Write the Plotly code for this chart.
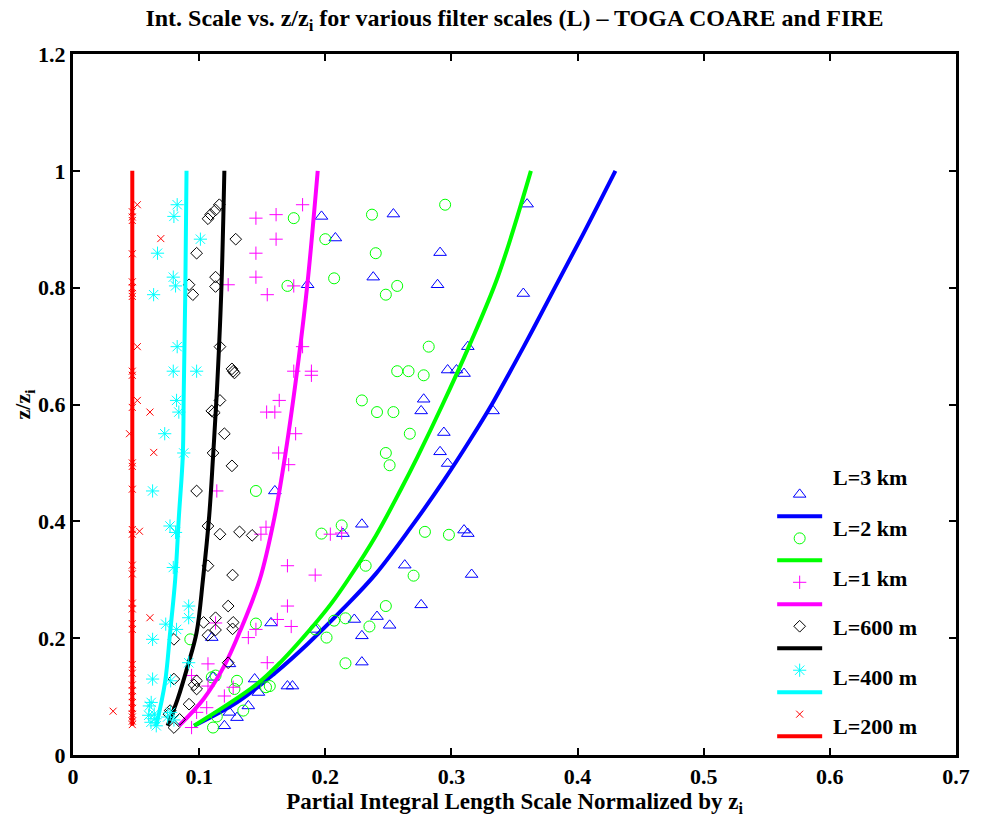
import plotly.graph_objects as go

# ---------------- data ----------------
# Fitted curves (x = normalized integral scale, z = z/zi)
fit3_z = [0.05, 0.09, 0.14, 0.19, 0.25, 0.31, 0.39, 0.47, 0.54, 0.60, 0.67, 0.73, 0.80, 0.89, 1.0]
fit3_x = [0.096, 0.130, 0.160, 0.186, 0.214, 0.240, 0.268, 0.294, 0.315, 0.332, 0.350, 0.365, 0.382, 0.404, 0.430]

fit2_z = [0.05, 0.12, 0.16, 0.22, 0.26, 0.30, 0.375, 0.455, 0.51, 0.60, 0.70, 0.82, 1.0]
fit2_x = [0.096, 0.145, 0.165, 0.190, 0.205, 0.218, 0.240, 0.260, 0.273, 0.293, 0.314, 0.337, 0.363]

fit1_z = [0.05, 0.096, 0.153, 0.21, 0.30, 0.41, 0.51, 0.68, 0.81, 1.0]
fit1_x = [0.084, 0.1035, 0.120, 0.132, 0.148, 0.160, 0.168, 0.179, 0.186, 0.194]

fit600_z = [0.05, 0.096, 0.153, 0.21, 0.30, 0.41, 0.51, 0.62, 0.79, 1.0]
fit600_x = [0.075, 0.083, 0.091, 0.098, 0.1030, 0.108, 0.111, 0.1140, 0.1175, 0.120]

fit400_z = [0.05, 0.125, 0.21, 0.30, 0.41, 0.51, 0.62, 0.79, 1.0]
fit400_x = [0.066, 0.073, 0.077, 0.081, 0.084, 0.087, 0.0878, 0.089, 0.090]

fit200_z = [0.05, 0.5, 1.0]
fit200_x = [0.047, 0.047, 0.047]

# Scatter data
pts3_x = [0.197, 0.208, 0.254, 0.360, 0.291, 0.238, 0.289, 0.357, 0.186, 0.313, 0.297, 0.304, 0.310,
          0.278, 0.276, 0.333, 0.294, 0.291, 0.297, 0.229, 0.214, 0.310, 0.313, 0.316, 0.263, 0.276,
          0.241, 0.223, 0.251, 0.229, 0.192, 0.229, 0.170, 0.174, 0.157, 0.110, 0.111, 0.124, 0.144,
          0.147, 0.139, 0.130, 0.120, 0.160, 0.124]
pts3_z = [0.922, 0.885, 0.926, 0.943, 0.860, 0.818, 0.805, 0.790, 0.805, 0.699, 0.659, 0.659, 0.653,
          0.609, 0.589, 0.589, 0.552, 0.519, 0.499, 0.395, 0.379, 0.385, 0.379, 0.309, 0.325, 0.257,
          0.237, 0.232, 0.222, 0.204, 0.215, 0.159, 0.118, 0.118, 0.226, 0.201, 0.133, 0.156, 0.130,
          0.107, 0.084, 0.064, 0.050, 0.452, 0.073]

pts2_x = [0.175, 0.200, 0.237, 0.240, 0.207, 0.170, 0.295, 0.257, 0.248, 0.282, 0.257, 0.266, 0.278,
          0.229, 0.241, 0.254, 0.267, 0.248, 0.251, 0.145, 0.197, 0.213, 0.279, 0.298, 0.232, 0.270,
          0.248, 0.207, 0.216, 0.235, 0.201, 0.192, 0.145, 0.093, 0.216, 0.130, 0.113, 0.128, 0.156,
          0.153, 0.135, 0.114, 0.111, 0.110]
pts2_z = [0.919, 0.883, 0.925, 0.859, 0.816, 0.803, 0.942, 0.803, 0.788, 0.699, 0.657, 0.657, 0.650,
          0.607, 0.587, 0.587, 0.550, 0.517, 0.496, 0.452, 0.379, 0.393, 0.382, 0.377, 0.324, 0.307,
          0.255, 0.230, 0.234, 0.220, 0.201, 0.215, 0.225, 0.198, 0.157, 0.127, 0.136, 0.113, 0.118,
          0.116, 0.076, 0.066, 0.047, 0.133]

pts1_x = [0.182, 0.145, 0.161, 0.161, 0.145, 0.123, 0.145, 0.154, 0.175, 0.182, 0.175, 0.189, 0.189,
          0.1635, 0.1535, 0.160, 0.1765, 0.163, 0.171, 0.114, 0.153, 0.149, 0.204, 0.213, 0.170, 0.192,
          0.170, 0.173, 0.145, 0.139, 0.162, 0.113, 0.107, 0.154, 0.094, 0.107, 0.127, 0.120, 0.106,
          0.098, 0.094]
pts1_z = [0.942, 0.919, 0.925, 0.883, 0.859, 0.805, 0.818, 0.788, 0.803, 0.699, 0.657, 0.657, 0.650,
          0.607, 0.587, 0.587, 0.550, 0.517, 0.497, 0.452, 0.390, 0.378, 0.378, 0.380, 0.324, 0.308,
          0.255, 0.220, 0.215, 0.201, 0.232, 0.226, 0.156, 0.158, 0.136, 0.118, 0.116, 0.101, 0.081,
          0.073, 0.047]

pts600_x = [0.116, 0.107, 0.109, 0.113, 0.129, 0.098, 0.092, 0.095, 0.113, 0.113, 0.1165, 0.126, 0.128,
            0.127, 0.1165, 0.110, 0.112, 0.120, 0.111, 0.126, 0.098, 0.107, 0.1165, 0.132, 0.142, 0.107,
            0.1265, 0.123, 0.113, 0.1035, 0.127, 0.113, 0.107, 0.1265, 0.080, 0.123, 0.080, 0.098, 0.098,
            0.096, 0.092, 0.077, 0.076, 0.080, 0.0845]
pts600_z = [0.942, 0.918, 0.925, 0.933, 0.883, 0.859, 0.805, 0.788, 0.818, 0.802, 0.699, 0.661, 0.654,
            0.657, 0.607, 0.589, 0.586, 0.550, 0.517, 0.495, 0.452, 0.392, 0.378, 0.382, 0.376, 0.324,
            0.308, 0.255, 0.235, 0.227, 0.227, 0.214, 0.205, 0.216, 0.198, 0.158, 0.130, 0.127, 0.113,
            0.120, 0.087, 0.076, 0.070, 0.047, 0.061]

pts400_x = [0.0826, 0.080, 0.101, 0.067, 0.0795, 0.0813, 0.0639, 0.0826, 0.0795, 0.098, 0.0821, 0.0839,
            0.0727, 0.0878, 0.0631, 0.0769, 0.0813, 0.0795, 0.0917, 0.0917, 0.0735, 0.0821, 0.0631,
            0.0917, 0.0631, 0.0774, 0.0605, 0.0644, 0.0618, 0.0774, 0.060, 0.062, 0.065, 0.066, 0.080,
            0.075]
pts400_z = [0.942, 0.922, 0.883, 0.859, 0.818, 0.803, 0.788, 0.699, 0.657, 0.657, 0.607, 0.587,
            0.550, 0.517, 0.452, 0.392, 0.381, 0.321, 0.255, 0.235, 0.224, 0.215, 0.198,
            0.158, 0.130, 0.127, 0.084, 0.070, 0.056, 0.073, 0.068, 0.090, 0.062, 0.050, 0.060,
            0.065]

pts200_x = [0.047, 0.051, 0.047, 0.047, 0.0696, 0.047, 0.047, 0.047, 0.047, 0.047, 0.051, 0.047, 0.047,
            0.051, 0.047, 0.061, 0.0448, 0.064, 0.047, 0.047, 0.047, 0.0527, 0.047, 0.047, 0.047, 0.047,
            0.047, 0.047, 0.061, 0.047, 0.047, 0.047, 0.047, 0.047, 0.047, 0.047, 0.047, 0.047, 0.0318,
            0.047, 0.047, 0.047, 0.047]
pts200_z = [0.930, 0.942, 0.921, 0.915, 0.884, 0.858, 0.810, 0.800, 0.790, 0.785, 0.699, 0.657, 0.650,
            0.607, 0.595, 0.587, 0.550, 0.518, 0.500, 0.494, 0.455, 0.383, 0.386, 0.378, 0.325, 0.310,
            0.260, 0.250, 0.235, 0.225, 0.215, 0.155, 0.140, 0.120, 0.110, 0.100, 0.090, 0.080, 0.075,
            0.070, 0.065, 0.058, 0.052]

legend_labels = ["L=3 km", "L=2 km", "L=1 km", "L=600 m", "L=400 m", "L=200 m"]
x_ticks = [0, 0.1, 0.2, 0.3, 0.4, 0.5, 0.6, 0.7]
y_ticks = [0, 0.2, 0.4, 0.6, 0.8, 1.0, 1.2]

# ---------------- figure ----------------
FONT = "Liberation Serif"
fig = go.Figure()

series = [
    (pts3_x, pts3_z, fit3_x, fit3_z, "rgb(0,0,255)", "triangle-up-open", 11),
    (pts2_x, pts2_z, fit2_x, fit2_z, "rgb(0,255,0)", "circle-open", 11),
    (pts1_x, pts1_z, fit1_x, fit1_z, "rgb(255,0,255)", "cross-thin-open", 9.5),
    (pts600_x, pts600_z, fit600_x, fit600_z, "rgb(0,0,0)", "diamond-open", 9),
    (pts400_x, pts400_z, fit400_x, fit400_z, "rgb(0,255,255)", "asterisk-open", 11),
    (pts200_x, pts200_z, fit200_x, fit200_z, "rgb(255,0,0)", "x-thin-open", 7),
]

for px, pz, fx, fz, col, sym, sz in series:
    fig.add_trace(go.Scatter(
        x=px, y=pz, mode="markers", name=" ",
        marker=dict(symbol=sym, size=sz, color=col, line=dict(width=1, color=col)),
    ))
    fig.add_trace(go.Scatter(
        x=fx, y=fz, mode="lines", name=" ",
        line=dict(color=col, width=4, shape="spline", smoothing=1.0),
    ))

# legend label texts (placed as in the original MATLAB legend)
label_y_px = [478, 529, 579, 628, 678, 727]
for lab, ypx in zip(legend_labels, label_y_px):
    fig.add_annotation(
        x=(837 - 72.5) / 891, y=(756 - ypx) / 702, xref="paper", yref="paper",
        text=lab, showarrow=False, xanchor="left", yanchor="middle",
        font=dict(family=FONT, size=22, color="black", weight="bold"),
    )

axis_common = dict(
    showgrid=False, zeroline=False, showline=True, linecolor="black", linewidth=3,
    mirror="ticks", ticks="inside", ticklen=7, tickwidth=2, tickcolor="black",
    tickfont=dict(family=FONT, size=22, color="black", weight="bold"),
)

fig.update_layout(
    width=982, height=818,
    margin=dict(l=72.5, r=18.5, t=54, b=62),
    paper_bgcolor="white", plot_bgcolor="white",
    font=dict(family=FONT, size=22, color="black", weight="bold"),
    title=dict(
        text="Int. Scale vs. z/z<sub>i</sub> for various filter scales (L) \u2013 TOGA COARE and FIRE",
        x=0.5, xref="paper", xanchor="center", y=1 - 18 / 818, yanchor="middle",
        font=dict(family=FONT, size=24, color="black", weight="bold"),
    ),
    xaxis=dict(
        range=[0, 0.7], tickvals=x_ticks, ticktext=[f"{v:g}" for v in x_ticks],
        title=dict(text="Partial Integral Length Scale Normalized by z<sub>i</sub>",
                   font=dict(family=FONT, size=23, color="black", weight="bold"), standoff=0),
        **axis_common,
    ),
    yaxis=dict(
        range=[0, 1.2], tickvals=y_ticks, ticktext=[f"{v:g}" for v in y_ticks],
        title=dict(text="z/z<sub>i</sub>",
                   font=dict(family=FONT, size=22, color="black", weight="bold"), standoff=0),
        **axis_common,
    ),
    showlegend=True,
    legend=dict(
        x=(778 - 72.5) / 891, y=(756 - 479) / 702, xanchor="left", yanchor="top",
        bgcolor="rgba(0,0,0,0)", borderwidth=0, itemwidth=45,
        font=dict(family=FONT, size=14.6, color="black"),
        tracegroupgap=0, itemsizing="trace",
    ),
)

fig.write_html("out.html")
